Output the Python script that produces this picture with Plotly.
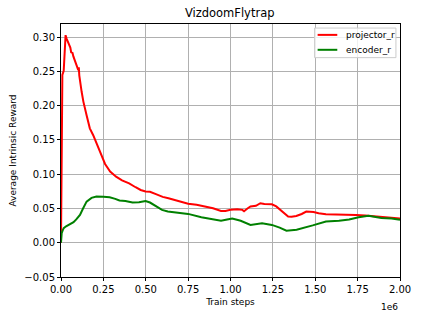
import plotly.graph_objects as go

# x in units of 1e6 train steps
proj_x = [0, 0.002, 0.004, 0.008, 0.016, 0.021, 0.027, 0.033, 0.039, 0.049, 0.055, 0.06, 0.068, 0.073, 0.078,
          0.089, 0.097, 0.102, 0.105, 0.108, 0.122, 0.132, 0.151, 0.17, 0.19, 0.219, 0.238, 0.26, 0.29, 0.325,
          0.36, 0.402, 0.44, 0.47, 0.499, 0.525, 0.56, 0.6, 0.634, 0.69, 0.75, 0.8, 0.85, 0.897, 0.944, 0.97,
          1.0, 1.04, 1.07, 1.08, 1.1, 1.118, 1.15, 1.176, 1.2, 1.244, 1.27, 1.292, 1.32, 1.34, 1.36, 1.388,
          1.42, 1.447, 1.49, 1.52, 1.563, 1.62, 1.68, 1.74, 1.795, 1.85, 1.89, 1.95, 2.0]
proj_y = [0.0, 0.12, 0.237, 0.245, 0.251, 0.283, 0.303, 0.298, 0.295, 0.29, 0.285, 0.278, 0.277, 0.272, 0.268,
          0.259, 0.254, 0.252, 0.256, 0.244, 0.22, 0.206, 0.186, 0.167, 0.157, 0.14, 0.128, 0.115, 0.104, 0.0965,
          0.091, 0.0867, 0.081, 0.077, 0.0747, 0.0745, 0.071, 0.067, 0.065, 0.061, 0.057, 0.0555, 0.053, 0.0504, 0.0465, 0.0465,
          0.048, 0.049, 0.048, 0.046, 0.05, 0.053, 0.054, 0.0577, 0.0565, 0.0562, 0.053, 0.048, 0.042, 0.0383, 0.038, 0.039,
          0.042, 0.0455, 0.045, 0.043, 0.0417, 0.0415, 0.0417, 0.0405, 0.0398, 0.0385, 0.0375, 0.0365, 0.0354]

enc_x = [0, 0.004, 0.01, 0.016, 0.03, 0.05, 0.074, 0.09, 0.112, 0.13, 0.151, 0.18, 0.209, 0.25, 0.287, 0.32,
         0.345, 0.38, 0.422, 0.46, 0.499, 0.525, 0.56, 0.596, 0.63, 0.673, 0.75, 0.828, 0.897, 0.944, 0.98,
         1.01, 1.06, 1.118, 1.186, 1.244, 1.29, 1.33, 1.39, 1.44, 1.485, 1.563, 1.64, 1.7, 1.756, 1.814, 1.85,
         1.89, 1.95, 2.0]
enc_y = [0.0, 0.014, 0.018, 0.0213, 0.024, 0.027, 0.030, 0.034, 0.0407, 0.05, 0.060, 0.0655, 0.0674, 0.067,
         0.0664, 0.064, 0.0616, 0.061, 0.0587, 0.059, 0.061, 0.0587, 0.054, 0.048, 0.0455, 0.0441, 0.0421,
         0.0373, 0.0344, 0.032, 0.034, 0.0354, 0.032, 0.026, 0.0286, 0.026, 0.022, 0.0175, 0.019, 0.022,
         0.0253, 0.031, 0.032, 0.034, 0.0373, 0.0393, 0.038, 0.036, 0.0355, 0.0334]

series_names = ["projector_r", "encoder_r"]
series_colors = ["#ff0000", "#008000"]

x_ticks = [0, 0.25, 0.5, 0.75, 1.0, 1.25, 1.5, 1.75, 2.0]
x_tick_text = ["0.00", "0.25", "0.50", "0.75", "1.00", "1.25", "1.50", "1.75", "2.00"]
y_ticks = [-0.05, 0, 0.05, 0.10, 0.15, 0.20, 0.25, 0.30]
y_tick_text = ["\u22120.05", "0.00", "0.05", "0.10", "0.15", "0.20", "0.25", "0.30"]

font = "DejaVu Sans"
fig = go.Figure()
fig.add_trace(go.Scatter(x=proj_x, y=proj_y, mode="lines", name=series_names[0],
                         line=dict(color=series_colors[0], width=2)))
fig.add_trace(go.Scatter(x=enc_x, y=enc_y, mode="lines", name=series_names[1],
                         line=dict(color=series_colors[1], width=2)))

axis_common = dict(showline=True, linecolor="black", linewidth=1, mirror=True,
                   showgrid=True, gridcolor="#b0b0b0", gridwidth=1, zeroline=False,
                   ticks="outside", ticklen=3, tickcolor="black",
                   tickfont=dict(family=font, size=10, color="black"))
fig.update_xaxes(range=[0, 2.0], tickvals=x_ticks, ticktext=x_tick_text,
                 title=dict(text="Train steps", font=dict(family=font, size=9, color="black"), standoff=4),
                 **axis_common)
fig.update_yaxes(range=[-0.05, 0.3193], tickvals=y_ticks, ticktext=y_tick_text,
                 title=dict(text="Average Intrinsic Reward", font=dict(family=font, size=9, color="black"), standoff=6),
                 **axis_common)

# manual legend (matplotlib-style)
shapes = [dict(type="rect", xref="paper", yref="paper", x0=0.748, x1=0.988, y0=0.867, y1=0.984,
               line=dict(color="#cccccc", width=1), fillcolor="rgba(255,255,255,0.8)", layer="above")]
annotations = []
leg_y = [0.957, 0.898]
for name, color, yy in zip(series_names, series_colors, leg_y):
    shapes.append(dict(type="line", xref="paper", yref="paper", x0=0.757, x1=0.815, y0=yy, y1=yy,
                       line=dict(color=color, width=2), layer="above"))
    annotations.append(dict(text=name, x=0.835, xref="paper", xanchor="left", y=yy, yref="paper",
                            yanchor="middle", showarrow=False,
                            font=dict(family=font, size=9, color="black")))
annotations.append(dict(text="1e6", x=1.0, xref="paper", xanchor="right", y=-0.09, yref="paper",
                        yanchor="top", showarrow=False, font=dict(family=font, size=9, color="black")))

fig.update_layout(
    width=423, height=317,
    margin=dict(l=57, r=21, t=24, b=38),
    paper_bgcolor="white", plot_bgcolor="white",
    title=dict(text="VizdoomFlytrap", x=0.543, xanchor="center", y=0.958, yanchor="middle",
               font=dict(family=font, size=11.5, color="black")),
    font=dict(family=font, color="black"),
    showlegend=False,
    shapes=shapes,
    annotations=annotations,
)

fig.write_html("out.html")
